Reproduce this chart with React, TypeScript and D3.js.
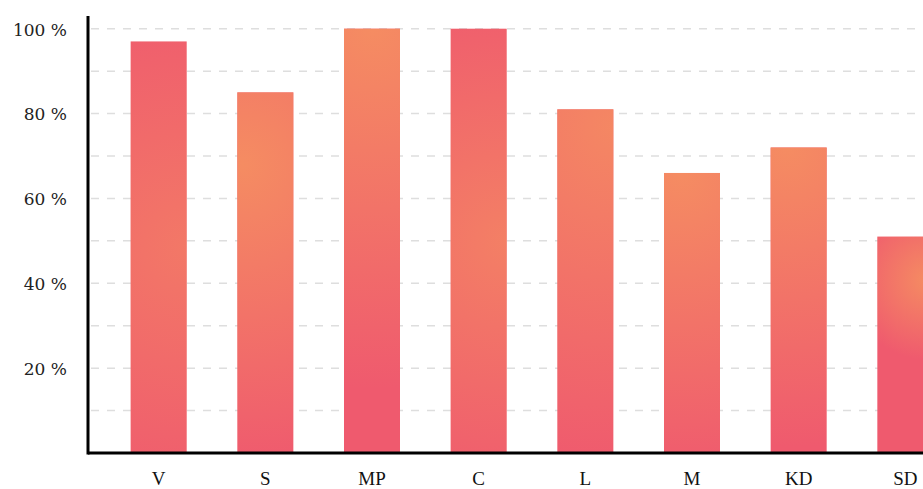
import React from 'react';
import * as d3 from 'd3';

const categories = ['V', 'S', 'MP', 'C', 'L', 'M', 'KD', 'SD'];
const values = [97, 85, 100, 100, 81, 66, 72, 51];
const yTickLabels = [20, 40, 60, 80, 100];
const gridValues = [10, 20, 30, 40, 50, 60, 70, 80, 90, 100];

const RED = '#ef5a6e';
const ORANGE = '#f58c62';

// orange glow per bar: [cx, cy] as fraction of the bar, radius px, strength
const glows: number[][] = [
  [1.0, 0.5, 260, 0.6],
  [0.1, 0.2, 300, 1.0],
  [0.5, 0.0, 360, 1.0],
  [1.0, 0.5, 260, 0.75],
  [1.0, 0.05, 340, 0.9],
  [0.3, 0.0, 300, 1.0],
  [0.3, 0.0, 300, 1.0],
  [0.9, 0.2, 80, 1.0],
];

const width = 923;
const height = 489;
const margin = { left: 88, top: 16, bottom: 36 };

const App: React.FC = () => {
  const baseY = height - margin.bottom;
  const x = d3.scaleBand<string>()
    .domain(categories)
    .range([margin.left, margin.left + 888])
    .paddingInner(0.475)
    .paddingOuter(0.4);
  const y = d3.scaleLinear().domain([0, 103]).range([baseY, margin.top]);
  const bw = x.bandwidth();

  return (
    <svg width={width} height={height} style={{ position: 'absolute', left: 0, top: 0 }}>
      <defs>
        {categories.map((c, i) => {
          const x0 = x(c) as number;
          const top = y(values[i]);
          const [gx, gy, r, s] = glows[i];
          return (
            <radialGradient key={c} id={`g${i}`} gradientUnits="userSpaceOnUse"
              cx={x0 + gx * bw} cy={top + gy * (baseY - top)} r={r}>
              <stop offset="0" stopColor={ORANGE} stopOpacity={s} />
              <stop offset="1" stopColor={ORANGE} stopOpacity={0} />
            </radialGradient>
          );
        })}
      </defs>
      {gridValues.map(v => (
        <line key={v} x1={margin.left + 3} x2={width} y1={y(v)} y2={y(v)}
          stroke="#dedede" strokeWidth={1.5} strokeDasharray="8,8" />
      ))}
      {categories.map((c, i) => (
        <g key={c}>
          <rect x={x(c)} y={y(values[i])} width={bw} height={baseY - y(values[i])} fill={RED} />
          <rect x={x(c)} y={y(values[i])} width={bw} height={baseY - y(values[i])} fill={`url(#g${i})`} />
        </g>
      ))}
      <line x1={margin.left} x2={margin.left} y1={margin.top} y2={baseY + 1.5} stroke="#000" strokeWidth={3} />
      <line x1={margin.left} x2={width} y1={baseY} y2={baseY} stroke="#000" strokeWidth={3} />
      {yTickLabels.map(v => (
        <text key={v} x={67} y={y(v)} dy="0.4em" textAnchor="end"
          fontFamily="'DejaVu Serif', serif" fontSize={17} fill="#222">{`${v} %`}</text>
      ))}
      {categories.map(c => (
        <text key={c} x={(x(c) as number) + bw / 2} y={485} textAnchor="middle"
          fontFamily="'Liberation Serif', serif" fontSize={19} fill="#111">{c}</text>
      ))}
    </svg>
  );
};

export default App;
